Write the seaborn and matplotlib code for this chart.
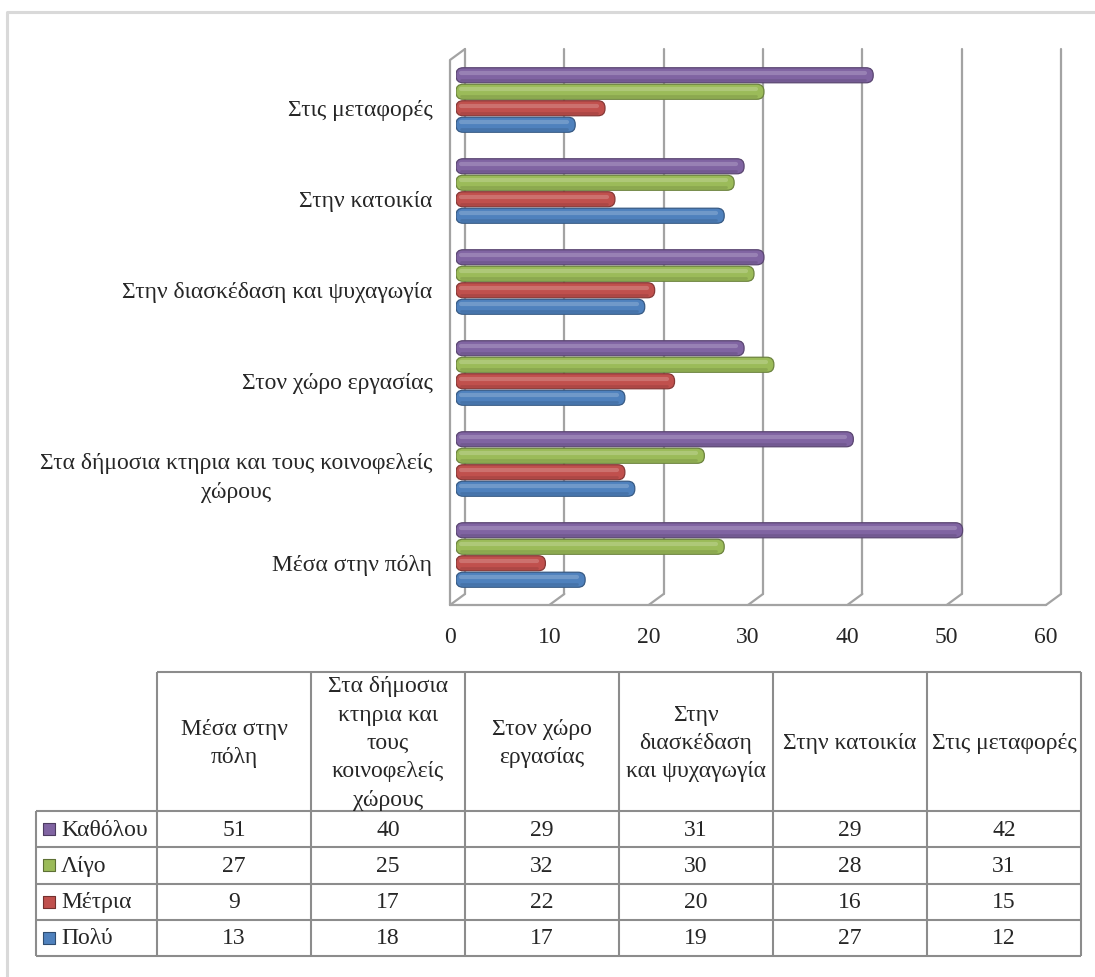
import numpy as np
import pandas as pd
import matplotlib
matplotlib.use("Agg")
import matplotlib.pyplot as plt
import seaborn as sns
from matplotlib.patches import FancyBboxPatch
from matplotlib.transforms import ScaledTranslation
from matplotlib.colors import to_rgb

# ---- data (table order, left to right) ----
categories = ["Μέσα στην πόλη",
              "Στα δήμοσια κτηρια και τους κοινοφελείς χώρους",
              "Στον χώρο εργασίας",
              "Στην διασκέδαση και ψυχαγωγία",
              "Στην κατοικία",
              "Στις μεταφορές"]
chart_labels = ["Μέσα στην πόλη",
                "Στα δήμοσια κτηρια και τους κοινοφελείς\nχώρους",
                "Στον χώρο εργασίας",
                "Στην διασκέδαση και ψυχαγωγία",
                "Στην κατοικία",
                "Στις μεταφορές"]
header_labels = ["Μέσα στην\nπόλη",
                 "Στα δήμοσια\nκτηρια και\nτους\nκοινοφελείς\nχώρους",
                 "Στον χώρο\nεργασίας",
                 "Στην\nδιασκέδαση\nκαι ψυχαγωγία",
                 "Στην κατοικία",
                 "Στις μεταφορές"]
series = ["Καθόλου", "Λίγο", "Μέτρια", "Πολύ"]
katholou = [51, 40, 29, 31, 29, 42]
ligo = [27, 25, 32, 30, 28, 31]
metria = [9, 17, 22, 20, 16, 15]
poly = [13, 18, 17, 19, 27, 12]
colors = ["#8064A2", "#9BBB59", "#C0504D", "#4F81BD"]
xticks = [0, 10, 20, 30, 40, 50, 60]

values = [katholou, ligo, metria, poly]
df = pd.DataFrame([(c, s, v) for s, vals in zip(series, values)
                   for c, v in zip(categories, vals)],
                  columns=["category", "series", "value"])

sns.set_style("white")
FONT = "Liberation Serif"
plt.rcParams["font.family"] = "serif"
plt.rcParams["font.serif"] = [FONT, "DejaVu Serif"]
FS = 17
LS = 1.46

W, H = 1095, 977
fig = plt.figure(figsize=(W / 100, H / 100), dpi=100)

# chart axes in pixel layout
ax_left, ax_right, ax_top, ax_bot = 456, 1052, 49, 605
ax = fig.add_axes([ax_left / W, (H - ax_bot) / H,
                   (ax_right - ax_left) / W, (ax_bot - ax_top) / H])

sns.barplot(data=df, x="value", y="category", hue="series",
            order=categories[::-1], hue_order=series, palette=colors,
            orient="h", width=0.725, gap=0.09, saturation=1,
            legend=False, ax=ax)

px_y = 91.0
ax.set_xlim(0, 60)
ax.set_ylim(5 + (ax_bot - 555) / px_y, -(100 - ax_top) / px_y)
for s in ax.spines.values():
    s.set_visible(False)
ax.set_xlabel("")
ax.set_ylabel("")
ax.patch.set_alpha(0)

px_x = (ax_right - ax_left) / 60.0
asp = (1 / px_y) / (1 / px_x)

# cylinder-like bars
for p in list(ax.patches):
    x0, y0, w, h = p.get_x(), p.get_y(), p.get_width(), p.get_height()
    fc = np.array(to_rgb(p.get_facecolor()))
    p.remove()
    fb = FancyBboxPatch((x0, y0), w, h,
                        boxstyle=f"round,pad=0,rounding_size={7 / px_x:.3f}",
                        mutation_aspect=asp, fc=fc, ec=fc * 0.7, lw=0.9,
                        zorder=3)
    ax.add_patch(fb)
    light = fc + (1 - fc) * 0.35
    ax.plot([x0 + 0.5, x0 + w - 0.8], [y0 + h * 0.32] * 2, color=light,
            lw=3.0, alpha=0.55, solid_capstyle="round", zorder=4)
    ax.plot([x0 + 0.5, x0 + w - 0.8], [y0 + h * 0.8] * 2, color=fc * 0.8,
            lw=2.0, alpha=0.5, solid_capstyle="round", zorder=4)

# 3D-ish frame: back wall gridlines, floor and left wall
grid_c = "#A3A3A3"
back = ax.get_xaxis_transform() + ScaledTranslation(9 / 100, 0, fig.dpi_scale_trans)
front = ax.get_xaxis_transform() + ScaledTranslation(-6 / 100, 0, fig.dpi_scale_trans)
floor_back = (ax_bot - 594) / (ax_bot - ax_top)
for v in xticks:
    ax.plot([v, v], [floor_back, 1], color=grid_c, lw=1.6, transform=back,
            zorder=1, clip_on=False)
    ax.plot([v, v + 15 / px_x], [0, floor_back], color=grid_c, lw=1.6,
            transform=front, zorder=1, clip_on=False)
ax.plot([xticks[0], xticks[-1]], [0, 0], color=grid_c, lw=1.6,
        transform=front, zorder=1, clip_on=False)
wall_top = (ax_bot - 60) / (ax_bot - ax_top)
ax.plot([0, 0, 15 / px_x], [0, wall_top, 1], color=grid_c, lw=1.6,
        transform=front, zorder=1, clip_on=False)

ax.set_xticks(xticks)
ax.set_xticklabels([str(v) for v in xticks], fontsize=FS, fontfamily=FONT)
ax.set_yticks(range(len(categories)))
ax.set_yticklabels([chart_labels[categories.index(c)] for c in categories[::-1]],
                   fontsize=FS, fontfamily=FONT)
ax.tick_params(axis="x", length=0, pad=16)
ax.tick_params(axis="y", length=0, pad=17)
for lab in ax.get_xticklabels():
    lab.set_transform(lab.get_transform() + ScaledTranslation(-6 / 100, 0, fig.dpi_scale_trans))
for lab in ax.get_yticklabels():
    lab.set_transform(lab.get_transform() + ScaledTranslation(0, -8 / 100, fig.dpi_scale_trans))
    lab.set_multialignment("center")
    lab.set_linespacing(LS)

# ---- data table below ----
tax = fig.add_axes([0, 0, 1, 1], zorder=-1)
tax.set_xlim(0, W)
tax.set_ylim(H, 0)
tax.axis("off")

# outer frame
tax.plot([7, 7, W], [H, 12, 12], color="#D9D9D9", lw=2.2)

t_left, lab_w, col_w = 36, 121, 154
h_top, h_h, row_h = 672, 139, 36.25
c0 = t_left + lab_w
t_right = c0 + col_w * len(categories)
r0 = h_top + h_h
t_bot = r0 + row_h * len(series)
line_c = "#8C8C8C"

tax.hlines(h_top, c0, t_right, color=line_c, lw=1.5)
for i in range(len(series) + 1):
    tax.hlines(r0 + i * row_h, t_left, t_right, color=line_c, lw=1.5)
tax.vlines(t_left, r0, t_bot, color=line_c, lw=1.5)
for j in range(len(categories) + 1):
    tax.vlines(c0 + j * col_w, h_top, t_bot, color=line_c, lw=1.5)

for j, lab in enumerate(header_labels):
    tax.text(c0 + (j + 0.5) * col_w, h_top + h_h / 2 + 2, lab, ha="center",
             va="center", fontsize=FS, fontfamily=FONT, linespacing=LS,
             multialignment="center")

for i, (s, vals, col) in enumerate(zip(series, values, colors)):
    yc = r0 + (i + 0.5) * row_h
    tax.scatter([t_left + 13], [yc], marker="s", s=80, color=col,
                edgecolor=np.array(to_rgb(col)) * 0.6, lw=0.8)
    tax.text(t_left + 25, yc + 1, s, ha="left", va="center", fontsize=FS,
             fontfamily=FONT)
    for j, v in enumerate(vals):
        tax.text(c0 + (j + 0.5) * col_w, yc + 1, str(v), ha="center",
                 va="center", fontsize=FS, fontfamily=FONT)

fig.savefig("out.png", dpi=100)
